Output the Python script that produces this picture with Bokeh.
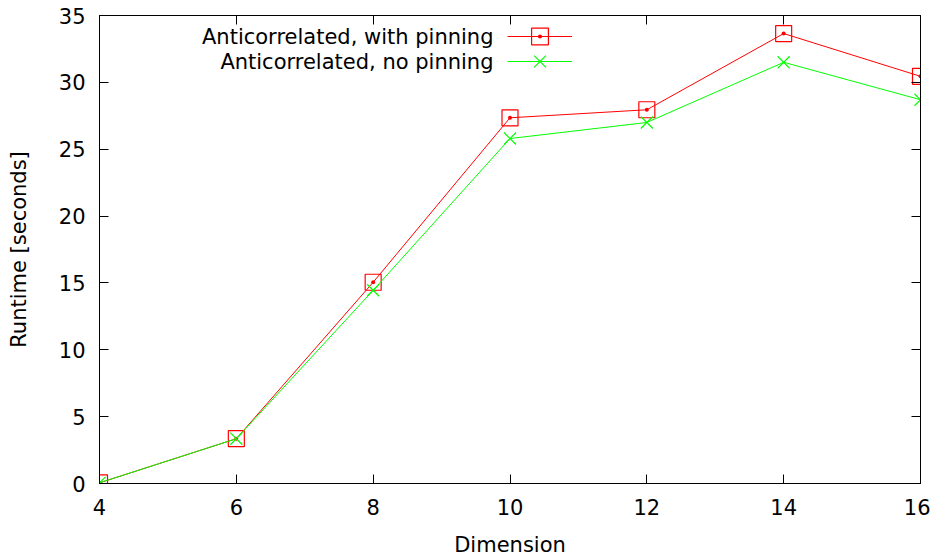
from bokeh.plotting import figure
from bokeh.models import (Range1d, FixedTicker, LinearAxis, Legend, LegendItem, Label,
                          CustomLabelingPolicy)
from bokeh.embed import file_html
from bokeh.resources import INLINE

dimension = [4, 6, 8, 10, 12, 14, 16]
with_pinning = [0.05, 3.35, 15.05, 27.35, 27.95, 33.65, 30.45]
no_pinning = [0.05, 3.35, 14.45, 25.8, 27.0, 31.5, 28.7]
label_with = "Anticorrelated, with pinning"
label_no = "Anticorrelated, no pinning"
x_ticks = [4, 6, 8, 10, 12, 14, 16]
y_ticks = [0, 5, 10, 15, 20, 25, 30, 35]

FONT = "DejaVu Sans"
FS = "21px"
RED = "#ff0000"
GREEN = "#00ff00"

p = figure(width=930, height=559, output_backend="svg", toolbar_location=None,
           x_range=Range1d(4, 16), y_range=Range1d(0, 35),
           min_border_left=99, min_border_right=10, min_border_top=15, min_border_bottom=76)
p.background_fill_color = "white"
p.border_fill_color = "white"
p.outline_line_color = "black"
p.outline_line_width = 1
p.grid.visible = False

def style_axis(ax, labels=True):
    ax.axis_line_color = "black"
    ax.major_tick_line_color = "black"
    ax.major_tick_in = 9
    ax.major_tick_out = 0
    ax.minor_tick_line_color = None
    ax.major_label_text_font = FONT
    ax.major_label_text_font_size = FS if labels else "0px"
    ax.major_label_text_color = "black"
    ax.axis_label_text_font = FONT
    ax.axis_label_text_font_size = FS
    ax.axis_label_text_font_style = "normal"
    ax.axis_label_text_color = "black"

p.xaxis.ticker = FixedTicker(ticks=x_ticks)
p.yaxis.ticker = FixedTicker(ticks=y_ticks)
style_axis(p.xaxis[0])
style_axis(p.yaxis[0])
p.xaxis.axis_label = "Dimension"
p.yaxis.axis_label = "Runtime [seconds]"
p.xaxis.major_label_standoff = 15
p.yaxis.major_label_standoff = 14
p.xaxis.axis_label_standoff = 15
p.yaxis.axis_label_standoff = 25

top_ax = LinearAxis(ticker=FixedTicker(ticks=x_ticks), major_label_standoff=0,
                    major_label_policy=CustomLabelingPolicy(code="return new Set()"))
right_ax = LinearAxis(ticker=FixedTicker(ticks=y_ticks), major_label_standoff=0,
                      major_label_policy=CustomLabelingPolicy(code="return new Set()"))
style_axis(top_ax, labels=False)
style_axis(right_ax, labels=False)
p.add_layout(top_ax, "above")
p.add_layout(right_ax, "right")

l1 = p.line(dimension, with_pinning, line_color=RED, line_width=1)
s1 = p.scatter(dimension, with_pinning, marker="square_dot", size=16,
               fill_alpha=0, line_color=RED, line_width=1.2)
l2 = p.line(dimension, no_pinning, line_color=GREEN, line_width=1)
s2 = p.scatter(dimension, no_pinning, marker="x", size=17,
               line_color=GREEN, line_width=1.2)

def make_legend(renderers, loc):
    lg = Legend(items=[LegendItem(label=" ", renderers=renderers)], location=loc,
                padding=0, margin=0, spacing=0, glyph_width=65, glyph_height=42,
                label_standoff=0, label_width=0, label_height=0,
                label_text_font_size="2px", border_line_color=None,
                background_fill_alpha=0)
    p.add_layout(lg, "center")

make_legend([l1, s1], (408, 426))
make_legend([l2, s2], (408, 401))

for txt, yy in [(label_with, 447), (label_no, 422)]:
    p.add_layout(Label(x=394, y=yy, x_units="screen", y_units="screen", text=txt,
                       text_align="right", text_baseline="middle",
                       text_font=FONT, text_font_size=FS, text_color="black"))

open("out.html", "w").write(file_html(p, INLINE))
